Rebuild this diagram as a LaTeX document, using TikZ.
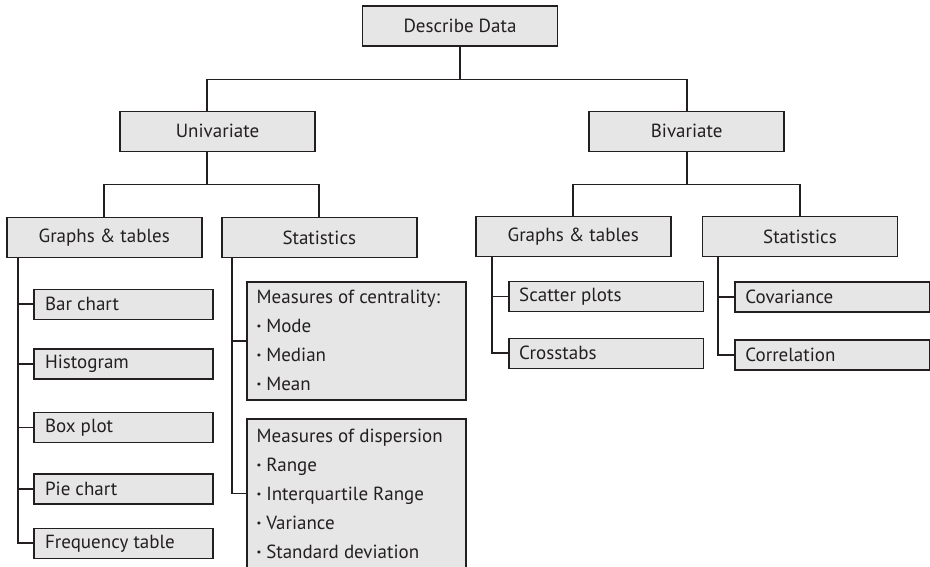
\documentclass[tikz,border=0pt]{standalone}
\usepackage{fontspec}
\setmainfont{PT Sans}
\definecolor{boxfill}{HTML}{E6E6E7}
\definecolor{ink}{HTML}{231F20}
\newcommand{\bul}{{\bfseries ·}\hspace{0.25em}}
\begin{document}
\begin{tikzpicture}[x=1pt,y=-1pt,
  conn/.style={draw=ink, line width=1.8pt},
  box/.style={rectangle, draw=ink, fill=boxfill, line width=1.6pt,
    font=\fontsize{19}{23}\selectfont, text=ink},
  topbox/.style={box, minimum width=195pt, minimum height=40pt, inner sep=0pt},
  leafl/.style={box, text width=156.7pt, inner xsep=11pt, inner ysep=0pt,
    minimum height=30pt, align=flush left},
  leafr/.style={box, text width=173.6pt, inner xsep=10.5pt, inner ysep=0pt,
    minimum height=30pt, align=flush left},
  multibox/.style={box, text width=199pt, inner xsep=10pt, inner ysep=0pt,
    align=flush left, font=\fontsize{19}{29}\selectfont}
]
\clip (0,0) rectangle (930,566);
\useasboundingbox (0,0) rectangle (930,566);

% level 0 and 1
\node[topbox] (desc) at (460,26) {Describe Data};
\node[topbox] (uni) at (217.5,131.3) {Univariate};
\node[topbox] (biv) at (686.7,131.3) {Bivariate};

% level 2
\node[topbox] (gtl) at (104.2,237.5) {Graphs \& tables};
\node[topbox] (stl) at (319.3,237.5) {Statistics};
\node[topbox] (gtr) at (573.2,236.5) {Graphs \& tables};
\node[topbox] (str) at (800,236.5) {Statistics};

% left leaves
\node[leafl] (bar)  at (123.4,304.3) {Bar chart};
\node[leafl] (hist) at (123.4,363.7) {Histogram};
\node[leafl] (boxp) at (123.4,427.5) {Box plot};
\node[leafl] (pie)  at (123.4,488.7) {Pie chart};
\node[leafl] (freq) at (123.4,543.3) {Frequency table};

% statistics boxes
\node[multibox, minimum height=118.3pt] (cent) at (356.2,340.85)
  {Measures of centrality:\\\bul Mode\\\bul Median\\\bul Mean};
\node[multibox, minimum height=149pt] (disp) at (356.2,493.5)
  {Measures of dispersion\\\bul Range\\\bul Interquartile Range\\\bul Variance\\\bul Standard deviation};

% right leaves
\node[leafr] (scat)  at (606,296.4) {Scatter plots};
\node[leafr] (cross) at (606,353.3) {Crosstabs};
\node[leafr] (cov)   at (832.2,296.7) {Covariance};
\node[leafr] (corr)  at (832.2,355) {Correlation};

% connectors: top
\draw[conn] (desc.south) -- ++(0,32.7) coordinate (b0);
\draw[conn] ([xshift=-10.3pt]uni.north) |- (b0) -| (biv.north);
\draw[conn] ([xshift=-10.8pt]uni.south) -- ++(0,32.3) coordinate (b1);
\draw[conn] (gtl.north) |- (b1) -| (stl.north);
\draw[conn] (biv.south) -- ++(0,32.3) coordinate (b2);
\draw[conn] (gtr.north) |- (b2) -| (str.north);

% connectors: leaves
\coordinate (tl) at ([xshift=12.3pt]gtl.south west);
\draw[conn] (tl) |- (freq.west);
\foreach \n in {bar,hist,boxp,pie} \draw[conn] (tl |- \n.west) -- (\n.west);

\coordinate (tl2) at ([xshift=11pt]stl.south west);
\draw[conn] (tl2) |- (disp.west);
\draw[conn] (tl2 |- cent.west) -- (cent.west);

\coordinate (tr) at ([xshift=17pt]gtr.south west);
\draw[conn] (tr) |- (cross.west);
\draw[conn] (tr |- scat.west) -- (scat.west);

\coordinate (tr2) at ([xshift=16.6pt]str.south west);
\draw[conn] (tr2) |- (corr.west);
\draw[conn] (tr2 |- cov.west) -- (cov.west);
\end{tikzpicture}
\end{document}
